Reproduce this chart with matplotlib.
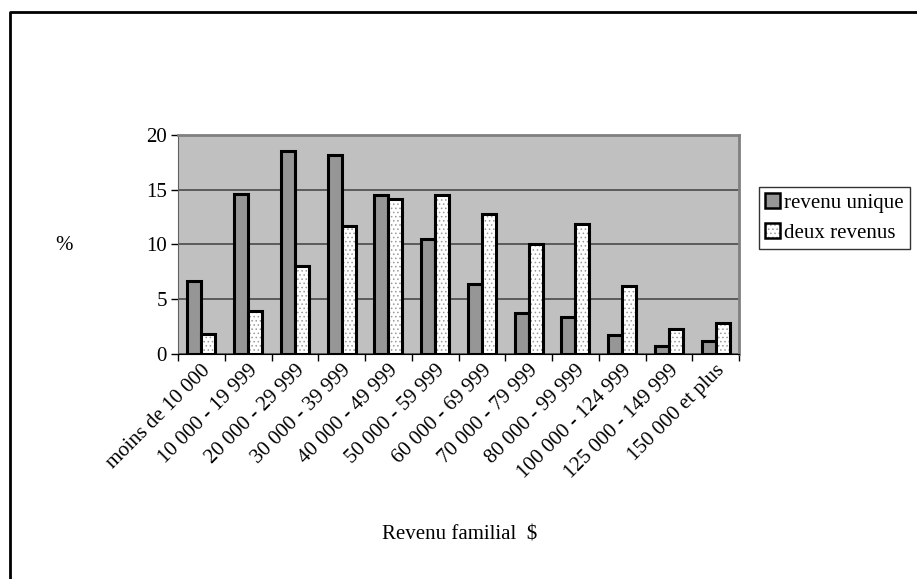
import numpy as np
import matplotlib
matplotlib.use("Agg")
import matplotlib.pyplot as plt
from matplotlib.patches import Patch
from matplotlib.lines import Line2D

# Income brackets and share of families (%)
categories = ["moins de 10 000", "10 000 - 19 999", "20 000 - 29 999",
              "30 000 - 39 999", "40 000 - 49 999", "50 000 - 59 999",
              "60 000 - 69 999", "70 000 - 79 999", "80 000 - 99 999",
              "100 000 - 124 999", "125 000 - 149 999", "150 000 et plus"]
revenu_unique = [6.7, 14.6, 18.5, 18.2, 14.5, 10.5, 6.4, 3.7, 3.4, 1.7, 0.7, 1.2]
deux_revenus = [1.8, 3.9, 8.0, 11.7, 14.2, 14.5, 12.8, 10.0, 11.9, 6.2, 2.3, 2.8]

plt.rcParams['font.family'] = ['Liberation Serif', 'DejaVu Serif']
plt.rcParams['hatch.linewidth'] = 0.6

fig = plt.figure(figsize=(9.17, 5.79), dpi=100)
ax = fig.add_axes([178 / 917, 1 - 354 / 579, 561 / 917, 219 / 579])

x = np.arange(len(categories))
w = 0.3
ax.set_facecolor("#C0C0C0")
ax.bar(x - w / 2, revenu_unique, w, color="#969696", edgecolor="black",
       linewidth=2.2, zorder=3)
# dotted fill drawn separately so the dots stay grey and the outline black
ax.bar(x + w / 2, deux_revenus, w, color="white", edgecolor="#9A9A9A",
       hatch="....", linewidth=0, zorder=3)
ax.bar(x + w / 2, deux_revenus, w, fill=False, edgecolor="black",
       linewidth=2.2, zorder=4)

ax.set_xlim(-0.5, len(categories) - 0.5)
ax.set_ylim(0, 20)
ax.set_yticks([0, 5, 10, 15, 20])
ax.yaxis.grid(True, color="#4A4A4A", linewidth=1.2, zorder=1)
ax.set_axisbelow(True)

# major ticks on category boundaries, labels on the centres
ax.set_xticks(np.append(x - 0.5, len(categories) - 0.5))
ax.set_xticklabels([""] * (len(categories) + 1))
ax.set_xticks(x, minor=True)
ax.set_xticklabels(categories, minor=True, rotation=45, ha="right",
                   rotation_mode="anchor", fontsize=15)
ax.tick_params(axis="x", which="minor", length=0, pad=5)
ax.tick_params(axis="x", which="major", length=5, width=1, direction="out")
ax.tick_params(axis="y", length=5, width=1, labelsize=15, pad=3)

for s in ["top", "right"]:
    ax.spines[s].set_color("#808080")
    ax.spines[s].set_linewidth(2)
ax.spines["left"].set_color("#606060")
ax.spines["bottom"].set_color("black")

fig.text(55 / 917, 1 - 245 / 579, "%", fontsize=15, ha="left", va="center")
fig.text(460 / 917, 1 - 535 / 579, "Revenu familial  $", fontsize=15,
         ha="center", va="center")

handles = [Patch(facecolor="#969696", edgecolor="black", linewidth=1.8),
           (Patch(facecolor="white", edgecolor="#9A9A9A", hatch="....",
                  linewidth=0),
            Patch(fill=False, edgecolor="black", linewidth=1.8))]
leg = fig.legend(handles, ["revenu unique", "deux revenus"],
                 loc="upper left", bbox_to_anchor=(759 / 917, 1 - 187 / 579),
                 fontsize=15, frameon=True, fancybox=False,
                 handlelength=0.7, handleheight=0.7, handletextpad=0.2,
                 borderpad=0.3, labelspacing=0.5, borderaxespad=0)
leg.get_frame().set_edgecolor("black")
leg.get_frame().set_linewidth(1)

# outer chart frame (only left and top edges visible in the crop)
fig.add_artist(Line2D([10 / 917, 10 / 917, 1.0], [0.0, 1 - 12 / 579, 1 - 12 / 579],
                      color="black", linewidth=2, transform=fig.transFigure))

fig.savefig("out.png", dpi=100)
